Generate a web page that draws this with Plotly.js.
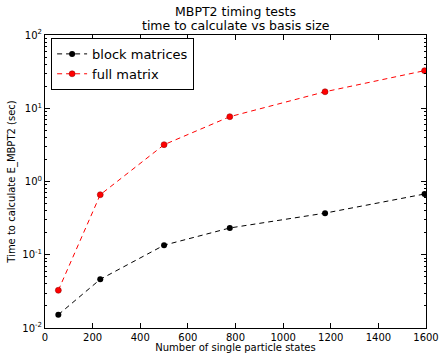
<!DOCTYPE html>
<html>
<head>
<meta charset="utf-8">
<script src="https://cdn.plot.ly/plotly-3.0.1.min.js"></script>
<style>html,body{margin:0;padding:0;background:#fff;}#chart{width:439px;height:353px;}</style>
</head>
<body>
<div id="chart"></div>
<script>
const basisSize = [56, 232, 500, 776, 1176, 1594];
const blockTimes = [0.0152, 0.0462, 0.135, 0.232, 0.37, 0.675];
const fullTimes = [0.0327, 0.66, 3.18, 7.67, 16.8, 32.6];
const seriesNames = ["block matrices", "full matrix"];
const titleLines = ["MBPT2 timing tests", "time to calculate vs basis size"];
const yTickVals = [0.01, 0.1, 1, 10, 100];
const yTickText = ["10<sup>-2</sup>", "10<sup>-1</sup>", "10<sup>0</sup>", "10<sup>1</sup>", "10<sup>2</sup>"];

const font = "DejaVu Sans, sans-serif";
const traces = [
  {x: basisSize, y: blockTimes, name: seriesNames[0], mode: "lines+markers", type: "scatter",
   line: {color: "black", dash: "5px,4px", width: 1}, marker: {color: "black", size: 6}},
  {x: basisSize, y: fullTimes, name: seriesNames[1], mode: "lines+markers", type: "scatter",
   line: {color: "red", dash: "5px,4px", width: 1}, marker: {color: "red", size: 6, line: {color: "#800", width: 0.5}}}
];
const axisCommon = {
  showline: true, linecolor: "black", linewidth: 1, mirror: "allticks",
  ticks: "inside", ticklen: 5, tickcolor: "black", showgrid: false, zeroline: false,
  tickfont: {family: font, size: 10, color: "black"}
};
const layout = {
  width: 439, height: 353,
  margin: {l: 45, r: 13, t: 35, b: 25},
  paper_bgcolor: "white", plot_bgcolor: "white",
  font: {family: font, color: "black"},
  title: {text: titleLines[0], font: {family: font, size: 12.5, color: "black"},
          x: 0.5, xref: "paper", y: 1 - 12 / 353, yref: "container", yanchor: "middle"},
  annotations: [{text: titleLines[1], xref: "paper", yref: "paper", x: 0.5, y: 1, xanchor: "center", yanchor: "middle",
                 yshift: 10, showarrow: false, font: {family: font, size: 12.5, color: "black"}}],
  xaxis: Object.assign({}, axisCommon, {range: [0, 1600], dtick: 200, tick0: 0,
    title: {text: "Number of single particle states", font: {family: font, size: 10}, standoff: 2}}),
  yaxis: Object.assign({}, axisCommon, {type: "log", range: [-2, 2], tickmode: "array", tickvals: yTickVals, ticktext: yTickText,
    minor: {ticks: "inside", ticklen: 2, tickcolor: "black", dtick: "D1", showgrid: false},
    title: {text: "Time to calculate E_MBPT2 (sec)", font: {family: font, size: 10}, standoff: 4}}),
  showlegend: true,
  legend: {x: 0.016, y: 0.99, xanchor: "left", yanchor: "top", bordercolor: "black", borderwidth: 1,
           bgcolor: "white", font: {family: font, size: 13, color: "black"}, itemwidth: 30, tracegroupgap: 0}
};
Plotly.newPlot("chart", traces, layout, {staticPlot: true});
</script>
</body>
</html>
